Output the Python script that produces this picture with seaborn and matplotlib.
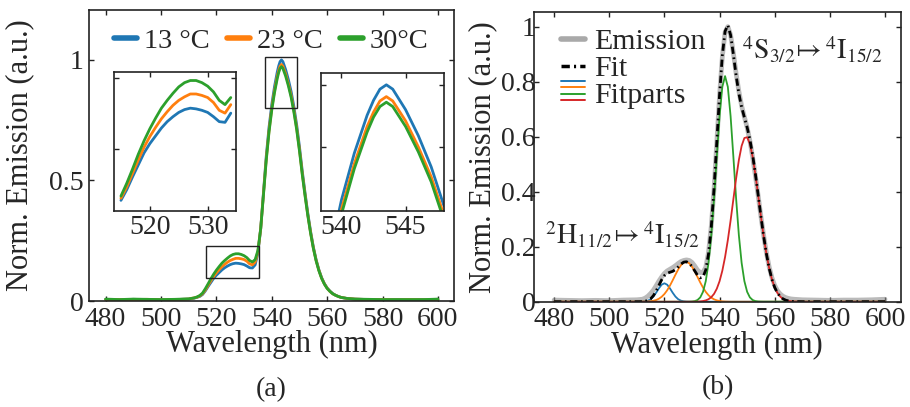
import numpy as np
import pandas as pd
import matplotlib
matplotlib.use("Agg")
import matplotlib.pyplot as plt
import seaborn as sns
from matplotlib.lines import Line2D
from matplotlib.patches import Rectangle
from matplotlib.legend_handler import HandlerBase
from matplotlib.ticker import FuncFormatter

# ---------------------------------------------------------------- data
# (a) normalised emission at three temperatures (finer sampling around the peak)
wavelength_a = ([480, 485, 490, 495, 500, 505, 510] + list(range(511, 543))
                + [542.5, 543, 543.5] + list(range(544, 568))
                + [570, 575, 580, 585, 590, 595, 600])
emission_13 = [0.007, 0.005, 0.007, 0.006, 0.005, 0.006, 0.008,
               0.010, 0.012, 0.015, 0.019, 0.027, 0.042, 0.060, 0.077, 0.094, 0.107,
               0.118, 0.129, 0.138, 0.145, 0.151, 0.155, 0.157, 0.156, 0.154, 0.151,
               0.145, 0.138, 0.137, 0.150, 0.200, 0.300, 0.450, 0.600, 0.720, 0.815,
               0.890, 0.951, 0.975, 0.993, 1.000, 0.993, 0.960, 0.918, 0.868, 0.805, 0.730, 0.640,
               0.540, 0.450, 0.365, 0.290, 0.225, 0.172, 0.130, 0.097, 0.072, 0.054,
               0.041, 0.031, 0.024, 0.019, 0.015, 0.013, 0.011,
               0.008, 0.006, 0.005, 0.006, 0.005, 0.006, 0.007]
emission_23 = [0.006, 0.006, 0.006, 0.007, 0.005, 0.006, 0.008,
               0.011, 0.013, 0.016, 0.021, 0.030, 0.046, 0.065, 0.084, 0.102, 0.117,
               0.130, 0.142, 0.152, 0.161, 0.168, 0.173, 0.177, 0.177, 0.175, 0.172,
               0.165, 0.154, 0.150, 0.162, 0.205, 0.300, 0.445, 0.589, 0.706, 0.800,
               0.873, 0.933, 0.956, 0.974, 0.981, 0.974, 0.942, 0.900, 0.852, 0.790, 0.716, 0.628,
               0.530, 0.442, 0.358, 0.285, 0.221, 0.169, 0.128, 0.095, 0.071, 0.053,
               0.040, 0.030, 0.024, 0.019, 0.015, 0.013, 0.011,
               0.008, 0.006, 0.006, 0.005, 0.006, 0.005, 0.007]
emission_30 = [0.008, 0.006, 0.008, 0.007, 0.006, 0.007, 0.009,
               0.011, 0.013, 0.017, 0.023, 0.033, 0.051, 0.071, 0.092, 0.111, 0.128,
               0.143, 0.157, 0.168, 0.178, 0.187, 0.193, 0.196, 0.196, 0.193, 0.188,
               0.180, 0.168, 0.162, 0.172, 0.210, 0.300, 0.440, 0.583, 0.700, 0.792,
               0.865, 0.924, 0.948, 0.965, 0.972, 0.965, 0.933, 0.892, 0.844, 0.782, 0.710, 0.622,
               0.525, 0.437, 0.355, 0.282, 0.219, 0.167, 0.126, 0.094, 0.070, 0.052,
               0.040, 0.030, 0.024, 0.019, 0.015, 0.013, 0.011,
               0.008, 0.007, 0.006, 0.006, 0.006, 0.006, 0.008]
temperature_labels = ["13 °C", "23 °C", "30°C"]

# (b) measured emission and its four Gaussian fit components
wavelength_b = [480, 485, 490, 495, 500, 505, 510] + list(range(511, 568)) + [570, 575, 580, 585, 590, 595, 600]
emission_b = [0.006, 0.005, 0.004, 0.005, 0.004, 0.006, 0.007,
              0.008, 0.009, 0.013, 0.020, 0.030, 0.042, 0.058, 0.075, 0.090, 0.103,
              0.112, 0.118, 0.124, 0.131, 0.139, 0.146, 0.150, 0.152, 0.150, 0.143,
              0.130, 0.115, 0.106, 0.107, 0.125, 0.180, 0.275, 0.410, 0.580, 0.750,
              0.890, 0.980, 1.000, 0.970, 0.905, 0.830, 0.765, 0.712, 0.672, 0.633,
              0.585, 0.525, 0.458, 0.385, 0.310, 0.240, 0.177, 0.126, 0.087, 0.059,
              0.040, 0.028, 0.020, 0.015, 0.012, 0.010, 0.009,
              0.007, 0.006, 0.005, 0.006, 0.006, 0.007, 0.009]
part_h11_low = [0, 0, 0, 0, 0, 0, 0,
                0, 0.0004, 0.0013, 0.0038, 0.0090, 0.0186, 0.0326, 0.0486, 0.0618, 0.0670,
                0.0618, 0.0486, 0.0326, 0.0186, 0.0090, 0.0038, 0.0013, 0.0004, 0, 0,
                0, 0, 0, 0, 0, 0, 0, 0, 0, 0,
                0, 0, 0, 0, 0, 0, 0, 0, 0, 0,
                0, 0, 0, 0, 0, 0, 0, 0, 0, 0,
                0, 0, 0, 0, 0, 0, 0,
                0, 0, 0, 0, 0, 0, 0]
part_h11_high = [0, 0, 0, 0, 0, 0, 0,
                 0, 0, 0.0004, 0.0008, 0.0017, 0.0034, 0.0062, 0.0108, 0.0179, 0.0280,
                 0.0415, 0.0584, 0.0778, 0.0981, 0.1173, 0.1328, 0.1425, 0.1448, 0.1395, 0.1272,
                 0.1099, 0.0900, 0.0698, 0.0513, 0.0357, 0.0235, 0.0147, 0.0087, 0.0049, 0.0026,
                 0.0013, 0.0006, 0.0003, 0, 0, 0, 0, 0, 0, 0,
                 0, 0, 0, 0, 0, 0, 0, 0, 0, 0,
                 0, 0, 0, 0, 0, 0, 0,
                 0, 0, 0, 0, 0, 0, 0]
part_s32_low = [0, 0, 0, 0, 0, 0, 0,
                0, 0, 0, 0, 0, 0, 0, 0, 0, 0,
                0, 0, 0, 0, 0, 0, 0, 0, 0.0002, 0.0007,
                0.0022, 0.0062, 0.0157, 0.0360, 0.0749, 0.1414, 0.2419, 0.3754, 0.5284, 0.6745,
                0.7809, 0.8200, 0.7809, 0.6745, 0.5284, 0.3754, 0.2419, 0.1414, 0.0749, 0.0360,
                0.0157, 0.0062, 0.0022, 0.0007, 0.0002, 0, 0, 0, 0, 0,
                0, 0, 0, 0, 0, 0, 0,
                0, 0, 0, 0, 0, 0, 0]
part_s32_high = [0, 0, 0, 0, 0, 0, 0,
                 0, 0, 0, 0, 0, 0, 0, 0, 0, 0,
                 0, 0, 0, 0, 0, 0, 0, 0, 0, 0,
                 0, 0, 0.0012, 0.0024, 0.0048, 0.0091, 0.0165, 0.0285, 0.0472, 0.0745,
                 0.1125, 0.1624, 0.2239, 0.2950, 0.3716, 0.4475, 0.5149, 0.5662, 0.5951, 0.5978,
                 0.5740, 0.5267, 0.4619, 0.3871, 0.3101, 0.2374, 0.1737, 0.1215, 0.0812, 0.0519,
                 0.0317, 0.0185, 0.0103, 0.0055, 0.0028, 0.0014, 0.0006,
                 0, 0, 0, 0, 0, 0, 0]
fit_total = np.sum([part_h11_low, part_h11_high, part_s32_low, part_s32_high], axis=0)

# zoom windows: (x0, x1, y0, y1)
zoom_box_left = (516.1, 535.3, 0.095, 0.228)
zoom_box_right = (537.5, 549.1, 0.800, 1.014)

# ---------------------------------------------------------------- style
sns.set_theme(style="ticks")
plt.rcParams["font.family"] = ["Liberation Serif", "DejaVu Serif"]
plt.rcParams["mathtext.fontset"] = "stix"
plt.rcParams["axes.edgecolor"] = "#222222"
plt.rcParams["axes.linewidth"] = 1.2

temp_colors = ["#1f77b4", "#ff7f0e", "#2ca02c"]
part_colors = ["#1f77b4", "#ff7f0e", "#2ca02c", "#d62728"]
TICK_FS = 20
LABEL_FS = 22
fmt = FuncFormatter(lambda v, p: f"{v:g}")


def style_axes(ax, pad=4.0, ypad=None):
    ax.tick_params(direction="in", top=True, right=True, length=3.6, width=1.0,
                   labelsize=TICK_FS, pad=pad, color="#222222")
    if ypad is not None:
        ax.tick_params(axis="y", pad=ypad)
    ax.xaxis.set_major_formatter(fmt)
    ax.yaxis.set_major_formatter(fmt)
    for s in ax.spines.values():
        s.set_linewidth(1.2)
        s.set_color("#222222")


class StackedLines(HandlerBase):
    """Legend handle made of several thin lines stacked on top of each other."""

    def __init__(self, colors, lw=1.4):
        super().__init__()
        self.colors = colors
        self.lw = lw

    def create_artists(self, legend, orig_handle, xdescent, ydescent, width,
                       height, fontsize, trans):
        arts = []
        for i, c in enumerate(self.colors):
            y = -ydescent + height * (1.05 - 0.3 * i)
            arts.append(Line2D([-xdescent, -xdescent + width], [y, y], color=c,
                               lw=self.lw, transform=trans))
        return arts


df_a = pd.DataFrame({
    "wavelength": wavelength_a * 3,
    "emission": emission_13 + emission_23 + emission_30,
    "T": sum([[t] * len(wavelength_a) for t in temperature_labels], []),
})

fig = plt.figure(figsize=(9.1, 4.07), dpi=100)
ax_a = fig.add_axes([0.0978, 0.2604, 0.4011, 0.715])
ax_b = fig.add_axes([0.5868, 0.2587, 0.4030, 0.7118])

# ---------------------------------------------------------------- panel (a)
sns.lineplot(data=df_a, x="wavelength", y="emission", hue="T", palette=temp_colors,
             hue_order=temperature_labels, lw=2.0, ax=ax_a, legend=False)
ax_a.set_xlim(474.0, 605.8)
ax_a.set_ylim(0, 1.207)
ax_a.set_xticks(range(480, 601, 20))
ax_a.set_yticks([0, 0.5, 1.0])
style_axes(ax_a, pad=4.0)
ax_a.set_xlabel("Wavelength (nm)", fontsize=LABEL_FS)
ax_a.set_ylabel("Norm. Emission (a.u.)", fontsize=LABEL_FS)
ax_a.xaxis.set_label_coords(0.5, -0.10)
ax_a.yaxis.set_label_coords(-0.15, 0.5)

for x0, x1, y0, y1 in (zoom_box_left, zoom_box_right):
    ax_a.add_patch(Rectangle((x0, y0), x1 - x0, y1 - y0, fill=False,
                             ec="#222222", lw=1.0, zorder=5))

handles_a = [Line2D([], [], color=c, lw=4) for c in temp_colors]
ax_a.legend(handles_a, temperature_labels, loc="upper center", ncol=3, frameon=False,
            fontsize=20.5, handlelength=0.8, handletextpad=0.25, columnspacing=0.6,
            borderaxespad=0.25, bbox_to_anchor=(0.5, 1.0))

# insets
ins_left = fig.add_axes([114 / 910, (407 - 211) / 407, 122 / 910, 139 / 407])
ins_right = fig.add_axes([321 / 910, (407 - 211) / 407, 123 / 910, 138 / 407])
sel_l = df_a[(df_a["wavelength"] >= 515) & (df_a["wavelength"] <= 534)]
sel_r = df_a[(df_a["wavelength"] >= 538) & (df_a["wavelength"] <= 548)]
sns.lineplot(data=sel_l, x="wavelength", y="emission", hue="T", palette=temp_colors,
             hue_order=temperature_labels, lw=2.0, ax=ins_left, legend=False)
sns.lineplot(data=sel_r, x="wavelength", y="emission", hue="T", palette=temp_colors,
             hue_order=temperature_labels, lw=2.0, ax=ins_right, legend=False)
ins_left.set_xlim(513.8, 534.9)
ins_left.set_ylim(0.012, 0.208)
ins_left.set_xticks([520, 530])
ins_left.set_yticks([0.1, 0.2])
ins_right.set_xlim(538.4, 548.0)
ins_right.set_ylim(0.797, 1.019)
ins_right.set_xticks([540, 545])
ins_right.set_yticks([0.9, 1.0])
for ins in (ins_left, ins_right):
    style_axes(ins, pad=3.0)
    ins.set_yticklabels([])
    ins.set_xlabel("")
    ins.set_ylabel("")
    ins.patch.set_facecolor("white")

# ---------------------------------------------------------------- panel (b)
sns.lineplot(x=wavelength_b, y=emission_b, color="#8c8c8c", lw=3.4, alpha=0.6, ax=ax_b)
for part, c in zip([part_h11_low, part_h11_high, part_s32_low, part_s32_high], part_colors):
    sns.lineplot(x=wavelength_b, y=part, color=c, lw=1.3, ax=ax_b)
sns.lineplot(x=wavelength_b, y=fit_total, color="black", lw=2.0,
             linestyle=(0, (2.6, 1.3, 0.6, 1.3)), ax=ax_b)
ax_b.set_xlim(472.7, 605.7)
ax_b.set_ylim(0, 1.053)
ax_b.set_xticks(range(480, 601, 20))
ax_b.set_yticks([0, 0.2, 0.4, 0.6, 0.8, 1.0])
style_axes(ax_b, pad=4.0, ypad=-1.0)
ax_b.set_xlabel("Wavelength (nm)", fontsize=LABEL_FS)
ax_b.set_ylabel("Norm. Emission (a.u.)", fontsize=LABEL_FS)
ax_b.xaxis.set_label_coords(0.5, -0.10)
ax_b.yaxis.set_label_coords(-0.10, 0.5)

ax_b.text(504.7, 0.243, r"$^{2}\mathrm{H}_{11/2}\!\mapsto{}^{4}\mathrm{I}_{15/2}$",
          ha="center", va="center", fontsize=20)
ax_b.text(573.5, 0.915, r"$^{4}\mathrm{S}_{3/2}\!\mapsto{}^{4}\mathrm{I}_{15/2}$",
          ha="center", va="center", fontsize=20)

h_em = Line2D([], [], color="#8c8c8c", lw=4, alpha=0.75)
h_fit = Line2D([], [], color="black", lw=2.5, linestyle=(0, (2.4, 1.2, 0.6, 1.2)))
h_parts = Line2D([], [], color="none")
ax_b.legend([h_em, h_fit, h_parts], ["Emission", "Fit", "Fitparts"], loc="upper left",
            bbox_to_anchor=(0.03, 1.0), frameon=False, fontsize=21.5, labelspacing=0.0,
            handlelength=0.8, handletextpad=0.3, borderaxespad=0.15,
            handler_map={h_parts: StackedLines(part_colors)})

# ---------------------------------------------------------------- captions
fig.text(270.7 / 910, 1 - 390 / 407, "(a)", ha="center", va="center", fontsize=20)
fig.text(718 / 910, 1 - 388 / 407, "(b)", ha="center", va="center", fontsize=20)

fig.savefig("out.png", dpi=100)
